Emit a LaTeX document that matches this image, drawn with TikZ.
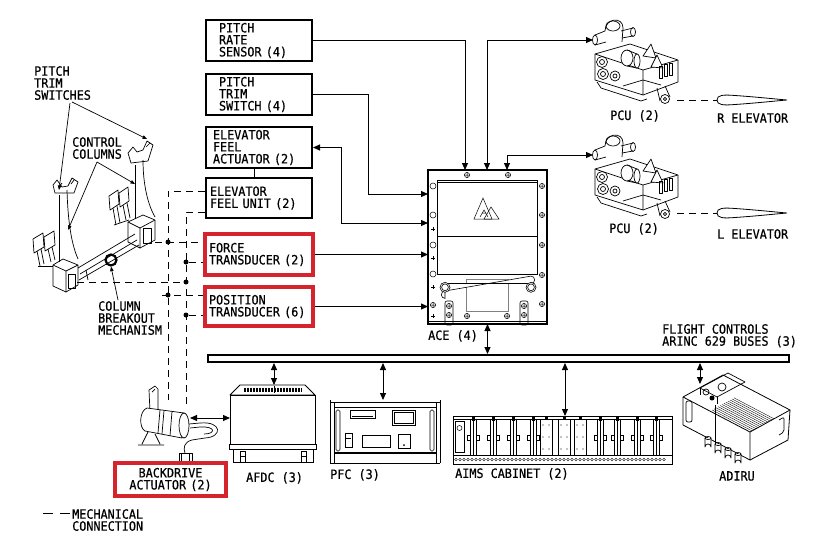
\documentclass[tikz,border=0pt]{standalone}
\usepackage{fontspec}
\newfontfamily\dmono[FakeStretch=0.92,FakeBold=0.6]{DejaVu Sans Mono}
\usetikzlibrary{arrows.meta,calc}
\definecolor{hlred}{RGB}{214,36,46}
\begin{document}
\begin{tikzpicture}[x=1pt,y=-1pt,
  >={Triangle[length=7pt,width=6pt]},
  txt/.style={font=\dmono\fontsize{12.8pt}{12pt}\selectfont, inner sep=0pt, align=left},
  blkbox/.style={draw, line width=2pt, txt, inner ysep=0pt, minimum width=106pt, minimum height=41pt},
  redbx/.style={draw=hlred, line width=4pt, txt, inner ysep=0pt, minimum width=108pt},
  conn/.style={line width=1pt},
  mech/.style={line width=1pt, dash pattern=on 7pt off 5pt},
  sk/.style={line width=0.7pt, line join=round},
  leader/.style={line width=0.7pt, -{Triangle[length=4.5pt,width=3.5pt]}},
  dotn/.style={circle, fill, inner sep=0pt, minimum size=5pt},
  ghost/.style={inner sep=0pt, outer sep=0pt},
  screw/.pic={\draw[line width=0.5pt] (0,0) circle (2.6) (-2.6,0) -- (2.6,0) (0,-2.6) -- (0,2.6);},
  plusm/.pic={\draw[line width=0.8pt] (-2,0) -- (2,0) (0,-2) -- (0,2);},
  hole/.pic={\draw[line width=0.5pt] (0,0) circle (3);},
  elev/.pic={\draw[line width=0.8pt] (0,0) .. controls (0,-5) and (6,-5.5) .. (18,-4.5) .. controls (40,-3) and (60,-0.8) .. (70,0) .. controls (60,0.8) and (40,3) .. (18,4.5) .. controls (6,5.5) and (0,5) .. (0,0) -- cycle;},
  pcu/.pic={
    % inlet tube and elbow
    \draw[sk] (2,0) ellipse (2.5 and 5);
    \draw[sk] (2,-5) -- (12,-9) (2,5) -- (13,2);
    \draw[sk] (12,-9) .. controls (12,-22) and (30,-24) .. (30,-12) -- (29,2);
    \draw[sk] (20,-14) ellipse (7 and 5);
    \draw[sk] (28,-9) -- (40,-12) (29,-2) -- (40,-4);
    \draw[sk] (40,-8) ellipse (2.5 and 4.5);
    % main block
    \draw[sk] (2,14) -- (37,4) -- (85,20) -- (50,30) -- cycle;
    \draw[sk] (2,14) -- (2,40) -- (50,55) -- (50,30);
    \draw[sk] (50,55) -- (85,42) -- (85,20);
    \draw[sk] (4,42) -- (8,48) -- (48,61) -- (54,59);
    % cylinders
    \draw[sk,fill=white] (9,22) circle (5.5);
    \draw[sk] (9,22) circle (2.5);
    \draw[sk,fill=white] (10,34) circle (5.5);
    \draw[sk] (10,34) circle (2.5);
    \draw[sk,fill=white] (22,36) circle (5);
    \draw[sk] (22,36) circle (2);
    \draw[sk,fill=white] (34,18) ellipse (6 and 8);
    \draw[sk] (34,10) -- (44,14) (34,26) -- (44,28);
    \draw[sk,fill=white] (44,21) ellipse (3 and 7);
    % cones
    \draw[sk,fill=white] (50,16) -- (58,4) -- (63,18) -- cycle;
    \draw[sk,fill=white] (58,27) -- (64,15) -- (70,28) -- cycle;
    % fins on right face
    \draw[sk] (66,26) rectangle (69,38) (71,24) rectangle (74,36) (76,23) rectangle (79,35);
    \draw[sk] (30,46) -- (50,40) -- (68,45);
    % output crank
    \draw[sk] (64,48) -- (67,61) (72,46) -- (77,57);
    \draw[sk,fill=white] (72,59) circle (4.5);
    \draw[sk] (72,59) circle (1.6);
  }
]
\fill[white] (0,0) rectangle (813,554);
\useasboundingbox (0,0) rectangle (813,554);

% ---------------- boxes ----------------
\node[blkbox, text width=80pt, inner xsep=13pt] (prs) at (259,40.5) {PITCH\\RATE\\SENSOR (4)};
\node[blkbox, text width=80pt, inner xsep=13pt] (pts) at (259,94.5) {PITCH\\TRIM\\SWITCH (4)};
\node[blkbox, text width=92pt, inner xsep=7pt] (efa) at (259,147.5) {ELEVATOR\\FEEL\\ACTUATOR (2)};
\node[blkbox, text width=98pt, inner xsep=4pt, minimum height=40pt] (efu) at (259,198) {ELEVATOR\\FEEL UNIT (2)};
\draw[line width=1pt] ([xshift=-5pt]efa.south) -- ([xshift=-5pt]efu.north);
\node[redbx, text width=100pt, inner xsep=4pt, minimum height=41pt] (ftr) at (259,254.5) {FORCE\\TRANSDUCER (2)};
\node[redbx, text width=100pt, inner xsep=4pt, minimum height=39pt] (ptr) at (259,306.5) {POSITION\\TRANSDUCER (6)};

% ---------------- ACE ----------------
\node[draw, line width=1.2pt, ghost, minimum width=119pt, minimum height=154pt] (ace) at (487.5,247) {};
\node[txt, anchor=north west] (acelbl) at (428,330) {ACE (4)};
\draw[line width=0.8pt] (437,180) rectangle (537,274);
\draw[line width=0.6pt] (437,182.5) -- (537,182.5);
\draw[line width=0.8pt] (437,236) -- (537,236);
\draw[line width=0.5pt] (474,219) -- (483,198) -- (492,219) -- cycle;
\draw[line width=0.5pt] (484,219) -- (491,207) -- (499,219) -- cycle;
\draw[line width=0.5pt] (480,217) -- (484,210) -- (488,217) (482,213) -- (486,213);
\foreach \yy in {186,215,245,274} \pic at (433,\yy) {hole};
\foreach \yy in {229,258,287,316} \pic at (433,\yy) {plusm};
\foreach \yy in {186,215,245,275,304} \pic at (542,\yy) {screw};
\foreach \p in {(433,305),(467,175),(508,175),(467,316),(507,316)} \pic at \p {screw};
\draw[gray, line width=0.6pt] (466,279) rectangle (508,311);
\draw[line width=0.6pt, fill=white] (445,283.5) -- (531,283.5) arc (90:-90:3.7) -- (445,291) arc (270:90:3.7) -- cycle;
\draw[line width=0.6pt, fill=white] (445,287.3) circle (5);
\draw[line width=0.6pt] (445,287.3) circle (3.4);
\draw[line width=0.6pt, fill=white] (531,287.3) circle (5);
\draw[line width=0.6pt] (531,287.3) circle (3.4);
\draw[line width=0.6pt, rounded corners=2pt] (445,301) rectangle (453,325);
\draw[line width=0.6pt, rounded corners=2pt] (520,301) rectangle (528,325);
\foreach \p in {(449,306),(449,315),(524,306),(524,315)} \pic at \p {screw};
\draw[line width=0.8pt] (428,321) -- (547,321);

% ---------------- connectors to ACE ----------------
\coordinate (aceT1) at (465,170);
\coordinate (aceT2) at (487,170);
\coordinate (aceT3) at (507,170);
\coordinate (aceL1) at (428,194);
\coordinate (aceL2) at (428,223);
\coordinate (pcuRin) at (593,40);
\coordinate (pcuLin) at (593,155);
\draw[conn,->] (prs.east) -| (aceT1);
\draw[conn,<->] (aceT2) |- (pcuRin);
\draw[conn,<->] (aceT3) |- (pcuLin);
\draw[conn,->] (pts.east) -- ++(55,0) |- (aceL1);
\draw[conn,<->] (efa.east) -- ++(28,0) |- (aceL2);
\draw[conn,->] (ftr.east) -- (ftr.east -| ace.west);
\draw[conn,->] (ptr.east) -- (ptr.east -| ace.west);

% ---------------- PCUs and elevators ----------------
\pic at (pcuRin) {pcu};
\pic at (pcuLin) {pcu};
\node[txt, anchor=north west] (pcuRlbl) at (610,110) {PCU (2)};
\node[txt, anchor=north west] (pcuLlbl) at (609,223) {PCU (2)};
\coordinate (pcuRout) at (677,100);
\coordinate (pcuLout) at (677,213);
\coordinate (elevR) at (717,100);
\coordinate (elevL) at (717,213);
\draw[mech] (pcuRout) -- (elevR);
\draw[mech] (pcuLout) -- (elevL);
\pic at (elevR) {elev};
\pic at (elevL) {elev};
\node[txt, anchor=north west] (elevRlbl) at (717,113) {R ELEVATOR};
\node[txt, anchor=north west] (elevLlbl) at (717,229) {L ELEVATOR};

% ---------------- bus ----------------
\node[draw, line width=2pt, inner sep=0pt, minimum width=581pt, minimum height=7pt] (bus) at (498.5,358.5) {};
\node[txt, anchor=north west] (buslbl) at (662,324) {FLIGHT CONTROLS\\ARINC 629 BUSES (3)};
\draw[conn,<->] (ace.south) -- (ace.south |- bus.north);

% ---------------- AFDC ----------------
\node[ghost, minimum width=85pt, minimum height=77pt] (afdc) at (272.5,423.5) {};
\draw[sk, line width=0.9pt] (240,385) -- (305,385) -- (315,395) -- (230,395) -- cycle;
\foreach \i in {0,...,38} \draw[line width=0.35pt] (244+\i*1.5,387.5) -- (244+\i*1.5,392);
\draw[line width=0.8pt] (274,386) -- (274,393);
\draw[line width=0.9pt] (230,395) rectangle (315,445);
\draw[line width=0.9pt, fill=white] (229,444) rectangle (316,449);
\draw[line width=0.9pt] (233,449) -- (233,462) -- (313,462) -- (313,449);
\draw[line width=0.7pt] (240,451) rectangle (245,462) (301,451) rectangle (306,462);
\draw[line width=0.5pt] (240,456) -- (245,456) (301,456) -- (306,456);
\node[txt, anchor=north west] (afdclbl) at (246,472) {AFDC (3)};
\coordinate (afdcIn) at (274,385);
\draw[conn,<->] (afdcIn |- bus.south) -- (afdcIn);

% ---------------- PFC ----------------
\node[ghost, minimum width=111pt, minimum height=63pt] (pfc) at (384.5,431.5) {};
\draw[line width=1pt] (330,400) -- (330,463) (334,402) -- (334,463);
\draw[line width=1pt] (436,402) -- (436,463) (440,400) -- (440,463);
\draw[line width=0.8pt] (330,402) -- (440,402);
\draw[line width=0.7pt] (334,407) -- (436,407);
\draw[line width=1.3pt] (334,453) -- (436,453);
\draw[line width=0.9pt] (330,463) -- (440,463);
\draw[line width=0.6pt, rounded corners=1.5pt] (336,410) rectangle (340,451) (430,410) rectangle (434,451);
\draw[line width=0.7pt] (350,410) rectangle (375,418);
\draw[line width=0.4pt] (352,416) -- (373,416);
\draw[line width=1pt] (392,410) rectangle (415,425);
\draw[line width=0.5pt] (394,412) rectangle (413,423);
\draw[line width=0.7pt] (345,433) rectangle (352,447);
\draw[line width=0.5pt] (346,438) -- (351,438);
\draw[line width=0.7pt] (362,435) rectangle (390,447);
\draw[line width=0.7pt] (398,434) rectangle (410,448);
\fill (404,445) circle (1);
\node[txt, anchor=north west] (pfclbl) at (330,469) {PFC (3)};
\coordinate (pfcIn) at (383,400);
\draw[conn,<->] (pfcIn |- bus.south) -- (pfcIn);

% ---------------- AIMS ----------------
\node[ghost, minimum width=219pt, minimum height=48pt] (aims) at (562.5,440) {};
\draw[line width=1pt] (453,416) rectangle (672,464);
\draw[line width=0.6pt] (453,419) -- (672,419) (453,455) -- (672,455);
\foreach \i in {0,...,52} \draw[line width=0.35pt] (456+\i*4,459.5) circle (1.3);
\draw[line width=0.6pt] (455,421) rectangle (464,452);
\draw[line width=0.5pt] (459.5,428) circle (2.5);
\foreach \xx in {473,493,513,533,600,617,637,656} {
  \draw[line width=0.6pt] (\xx-3,419) -- (\xx-3,455) (\xx+3,419) -- (\xx+3,455);
  \fill (\xx-1.5,417) rectangle (\xx+1.5,421);
  \draw[line width=0.5pt] (\xx,420) -- (\xx,455);
  \draw[line width=0.6pt] (\xx+3,435) rectangle (\xx+6,440);
  \draw[line width=0.6pt] (\xx-6,435) rectangle (\xx-3,440);
}
\foreach \xx in {546,564,580} {
  \draw[line width=0.5pt] (\xx-6,419) -- (\xx-6,455) (\xx+6,419) -- (\xx+6,455);
  \foreach \yy in {425,437,449} \fill (\xx-3,\yy) circle (0.6) (\xx+3,\yy) circle (0.6);
  \fill (\xx-1.5,417) rectangle (\xx+1.5,420);
}
\node[txt, anchor=north west] (aimslbl) at (455,468) {AIMS CABINET (2)};
\coordinate (aimsIn) at (565,416);
\draw[conn,<->] (aimsIn |- bus.south) -- (aimsIn);

% ---------------- ADIRU ----------------
\node[ghost, minimum width=110pt, minimum height=92pt] (adiru) at (735,419) {};
\draw[sk, line width=0.8pt] (683,397) -- (723,375) -- (790,410) -- (750,432) -- cycle;
\draw[sk, line width=0.8pt] (683,397) -- (683,425) -- (750,460) -- (750,432);
\draw[sk, line width=0.8pt] (750,460) -- (788,440) -- (790,410);
\foreach \s in {0.05,0.1,...,0.62} \draw[line width=0.35pt] ($(750,432)!\s!(790,410)$) -- ++(-40,-21);
\draw[sk] (700,388) -- (728,373) -- (745,382) -- (717,397) -- cycle;
\draw[sk] (717,397) -- (717,404) (700,388) -- (700,395);
\fill (712,398) circle (2.5);
\draw[sk] (706,392) circle (3) (722,387) circle (4);
\draw[sk, rounded corners=2pt] (686,401) rectangle (692,422);
\draw[sk] (715,405) -- (715,446);
\foreach \p in {(708,438),(718,444),(728,449),(738,454)} {
  \draw[sk, fill=white] \p ++(-3,0) -- ++(0,9) arc (180:360:3) -- ++(0,-9);
  \draw[sk] \p ellipse (3 and 1.5);
}
\draw[sk, rounded corners=2pt] (779,420) -- (784,417) -- (784,432) -- (779,435);
\node[txt, anchor=north west] (adirulbl) at (719,471) {ADIRU};
\coordinate (adiruIn) at (700,384);
\draw[conn,<->] (adiruIn |- bus.south) -- (adiruIn);

% ---------------- control columns ----------------
% left column
\draw[sk] (53,265) -- (63,259) -- (78,265) -- (66,271) -- cycle;
\draw[sk] (53,265) -- (53,286) -- (66,292) -- (66,271);
\draw[sk] (66,292) -- (78,285) -- (78,265);
\draw[sk] (68,274) rectangle (75,288);
\draw[sk] (59,262) -- (59,195);
\draw[sk] (67,190) .. controls (68,225) and (72,245) .. (78,259);
\draw[sk] (55,193) -- (53,185) -- (57,180) -- (62,187) -- (68,186) -- (72,178) -- (78,182) -- (74,193) -- cycle;
\draw[sk] (59,187) -- (62,183) (71,184) -- (74,180);
% right column
\draw[sk] (128,222) -- (143,215) -- (155,220) -- (140,228) -- cycle;
\draw[sk] (128,222) -- (128,242) -- (140,248) -- (140,228);
\draw[sk] (140,248) -- (155,240) -- (155,220);
\draw[sk] (143,228) rectangle (151,243);
\draw[sk] (135,165) -- (135,219);
\draw[sk] (143,160) .. controls (143,185) and (148,205) .. (155,217);
\draw[sk] (131,163) -- (128,153) -- (133,147) -- (137,152) -- (143,150) -- (147,141) -- (153,145) -- (148,161) -- cycle;
\draw[sk] (146,147) -- (150,143);
% torque tube
\draw[sk] (78,268) -- (135,234);
\draw[sk] (79,280) -- (139,245);
\draw[sk] (80,274) -- (137,240);
\draw[sk] (86,270) -- (88,280);
% pedals left
\draw[sk] (33,239) -- (43,233) -- (44,247) -- (34,253) -- cycle;
\draw[sk] (44,237) -- (54,231) -- (55,245) -- (45,251) -- cycle;
\draw[sk] (37,251) -- (40,266) (41,249) -- (44,264) (48,249) -- (51,262) (52,247) -- (55,260);
\draw[sk] (38,266) -- (53,266);
% pedals right
\draw[sk] (109,196) -- (118,190) -- (119,204) -- (110,210) -- cycle;
\draw[sk] (119,193) -- (128,187) -- (129,201) -- (120,207) -- cycle;
\draw[sk] (113,208) -- (116,225) (117,206) -- (120,223) (123,205) -- (126,220) (127,203) -- (130,218);
\draw[sk] (114,225) -- (129,220);
% breakout mechanism
\node[circle, draw, line width=2.2pt, minimum size=11pt, inner sep=0pt] (brk) at (111,260) {};
% labels and leaders
\node[txt, anchor=north west] (ptslbl) at (34,66) {PITCH\\TRIM\\SWITCHES};
\node[txt, anchor=north west] (cclbl) at (72,137) {CONTROL\\COLUMNS};
\node[txt, anchor=north west] (brklbl) at (98,301) {COLUMN\\BREAKOUT\\MECHANISM};
\coordinate (swL) at (59,190);
\coordinate (swR) at (147,139);
\coordinate (colLtip) at (68,230);
\coordinate (colRtip) at (135,184);
\draw[leader] (70,103) -- (swL);
\draw[leader] (72,102) -- (swR);
\draw[leader] (97,162) -- (colLtip);
\draw[leader] (97,162) -- (colRtip);
\draw[leader] (118,300) -- (brk.south);

% ---------------- backdrive actuator ----------------
\node[ghost, minimum width=85pt, minimum height=80pt] (bda) at (180,423) {};
\draw[sk] (150,412) -- (149,390) -- (155,386) -- (158,389) -- (158,410);
\draw[sk] (152,392) -- (155,389);
\draw[sk, fill=white] (147,408) -- (184,413) -- (182,438) -- (145,431) .. controls (139,428) and (139,411) .. (147,408);
\draw[sk, fill=white] (184,425.5) ellipse (5 and 12.5);
\draw[sk] (160,410) -- (158,433) (164,410.5) -- (162,434) (172,411.5) -- (170,436);
\draw[sk] (148,432) -- (142,444) (155,434) -- (160,444) (138,445) -- (164,445);
\draw[sk] (189,424) -- (200,423) .. controls (222,421) and (223,437) .. (205,438) -- (192,440) .. controls (184,442) and (183,448) .. (185,453);
\draw[sk] (190,428) -- (200,427) .. controls (216,426) and (216,434) .. (204,434);
\draw[sk, fill=white] (179,453) rectangle (192,461);
\draw[sk] (181,453) -- (181,461) (189,453) -- (189,461);
\node[redbx, text width=103pt, inner xsep=4pt, minimum width=111pt, minimum height=33pt, align=center] (bdabox) at (170.5,479.5) {BACKDRIVE\\ACTUATOR (2)};
\coordinate (bdaPort) at (190,418);
\draw[conn,<->] (bdaPort) -- (bdaPort -| afdc.west);

% ---------------- mechanical connections ----------------
\coordinate (mAt) at (168,191);
\coordinate (mBt) at (186,212);
\coordinate (mAb) at (168,400);
\coordinate (mBb) at (186,406);
\draw[mech] (efu.west |- mAt) -- (mAt) -- (mAb);
\draw[mech] (efu.west |- mBt) -- (mBt) -- (mBb);
\node[dotn] (d1) at (168,242) {};
\node[dotn] (d2) at (186,262) {};
\node[dotn] (d3) at (186,282) {};
\node[dotn] (d4) at (168,295) {};
\node[dotn] (d5) at (186,315) {};
\coordinate (colR) at (155,242);
\coordinate (colL) at (77,282);
\draw[mech] (colR) -- (ftr.west |- colR);
\draw[mech] (d2) -- (ftr.west |- d2);
\draw[mech] (colL) -- (d3);
\draw[mech] ([xshift=-3pt]d4.west) -- (ptr.west |- d4);
\draw[mech] (d5) -- (ptr.west |- d5);

% ---------------- legend ----------------
\coordinate (lg1) at (43,513);
\coordinate (lg2) at (70,513);
\draw[line width=1pt, dash pattern=on 10pt off 7pt] (lg1) -- (lg2);
\node[txt, anchor=north west] (lglbl) at (72,509) {MECHANICAL\\CONNECTION};
\end{tikzpicture}
\end{document}
